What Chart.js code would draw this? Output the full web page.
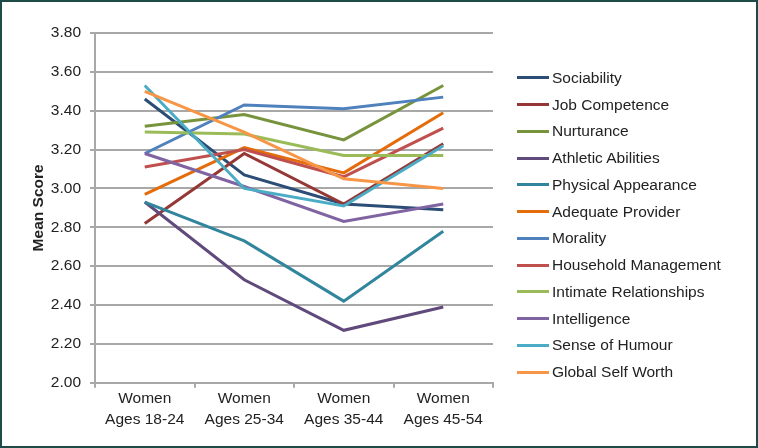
<!DOCTYPE html>
<html>
<head>
<meta charset="utf-8">
<script src="https://cdn.jsdelivr.net/npm/chart.js@4.4.1/dist/chart.umd.min.js"></script>
<style>
  html, body { margin: 0; padding: 0; background: #fff; }
  .frame { width: 758px; height: 448px; box-sizing: border-box; border: 2px solid #1d4b47; background: #fff; }
  .wrap { position: relative; width: 754px; height: 444px; }
  #legend { position: absolute; left: 515px; top: 62.6px; font: 15.5px "Liberation Sans", Arial, sans-serif; color: #222; }
  #legend .item { display: flex; align-items: center; height: 26.75px; white-space: nowrap; }
  #legend .swatch { width: 32px; height: 3px; margin-right: 3px; }
</style>
</head>
<body>
<div class="frame"><div class="wrap"><canvas id="chart"></canvas><div id="legend"></div></div></div>
<script>
// Groupes d'âge (axe X)
const categories = [
  ['Women', 'Ages 18-24'],
  ['Women', 'Ages 25-34'],
  ['Women', 'Ages 35-44'],
  ['Women', 'Ages 45-54'],
];

// Scores moyens
const sociability = [3.46, 3.07, 2.92, 2.89];
const jobCompetence = [2.82, 3.18, 2.92, 3.23];
const nurturance = [3.32, 3.38, 3.25, 3.53];
const athleticAbilities = [2.93, 2.53, 2.27, 2.39];
const physicalAppearance = [2.93, 2.73, 2.42, 2.78];
const adequateProvider = [2.97, 3.21, 3.08, 3.39];
const morality = [3.18, 3.43, 3.41, 3.47];
const householdManagement = [3.11, 3.20, 3.06, 3.31];
const intimateRelationships = [3.29, 3.28, 3.17, 3.17];
const intelligence = [3.18, 3.01, 2.83, 2.92];
const senseOfHumour = [3.53, 3.00, 2.91, 3.22];
const globalSelfWorth = [3.50, 3.29, 3.05, 3.00];

const yMin = 2.0, yMax = 3.8, yStep = 0.2;

const series = [
  ['Sociability', sociability, '#2c4d75'],
  ['Job Competence', jobCompetence, '#953735'],
  ['Nurturance', nurturance, '#77933c'],
  ['Athletic Abilities', athleticAbilities, '#604a7b'],
  ['Physical Appearance', physicalAppearance, '#31859c'],
  ['Adequate Provider', adequateProvider, '#e46c0a'],
  ['Morality', morality, '#4f81bd'],
  ['Household Management', householdManagement, '#c0504d'],
  ['Intimate Relationships', intimateRelationships, '#9bbb59'],
  ['Intelligence', intelligence, '#8064a2'],
  ['Sense of Humour', senseOfHumour, '#4bacc6'],
  ['Global Self Worth', globalSelfWorth, '#f79646'],
];

const FONT = '"Liberation Sans", Arial, sans-serif';
const TEXT = '#222';
const GRID = '#a8a8a8';

// Légende HTML à droite (la légende intégrée est bridée en largeur)
document.getElementById('legend').innerHTML = series
  .map(([label, , color]) => `<div class="item"><span class="swatch" style="background:${color}"></span>${label}</div>`)
  .join('');

new Chart(document.getElementById('chart'), {
  type: 'line',
  data: {
    labels: categories,
    datasets: series.map(([label, data, color], i) => ({
      label, data,
      borderColor: color, backgroundColor: color,
      borderWidth: 3, pointRadius: 0, tension: 0,
      order: series.length - i, // dernière série dessinée au-dessus
    })),
  },
  options: {
    responsive: true,
    maintainAspectRatio: false,
    animation: false,
    layout: { padding: { top: 31, left: 27, right: 263, bottom: 15 } },
    plugins: { tooltip: { enabled: false }, legend: { display: false } },
    scales: {
      x: {
        offset: true,
        grid: { offset: true, drawOnChartArea: false, drawTicks: true, tickLength: 5, color: GRID, lineWidth: 2 },
        border: { color: GRID, width: 2 },
        ticks: { color: TEXT, padding: 1, maxRotation: 0, font: { family: FONT, size: 15.5, lineHeight: 1.33 } },
      },
      y: {
        min: yMin, max: yMax,
        afterFit: (scale) => { scale.width = 66; },
        grid: { color: GRID, lineWidth: 2, tickLength: 5 },
        border: { color: GRID, width: 2 },
        ticks: { stepSize: yStep, color: TEXT, padding: 9, font: { family: FONT, size: 15.5 }, callback: (v) => Number(v).toFixed(2) },
        title: { display: true, text: 'Mean Score', color: TEXT, padding: { top: 0, bottom: 3 }, font: { family: FONT, size: 15.5, weight: 'bold' } },
      },
    },
  },
});
</script>
</body>
</html>
